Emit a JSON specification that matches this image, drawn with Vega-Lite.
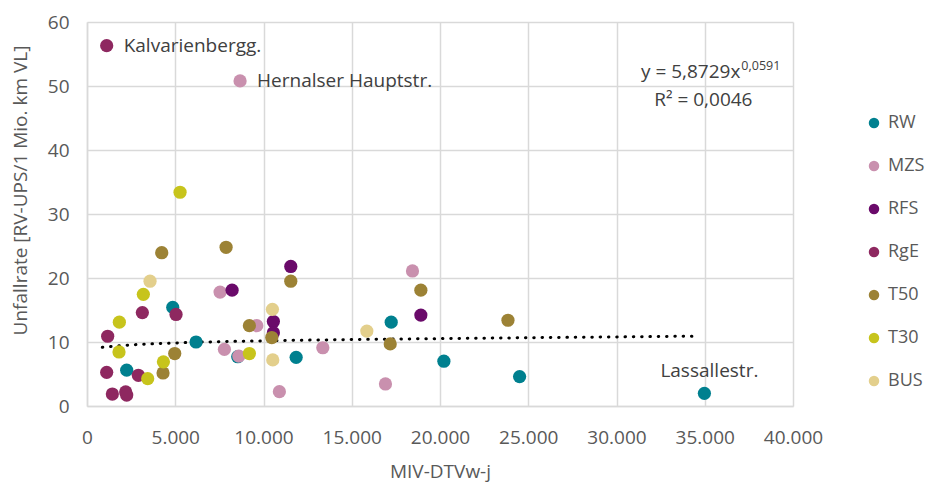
{
  "$schema": "https://vega.github.io/schema/vega-lite/v6.json",
  "autosize": {"type": "none"},
  "padding": {"left": 87, "top": 22, "right": 137, "bottom": 78},
  "width": 706,
  "height": 384,
  "datasets": {
    "pts": [
      {"cat": "RW", "x": 4858, "y": 15.4},
      {"cat": "RW", "x": 6179, "y": 10.0},
      {"cat": "RW", "x": 2249, "y": 5.6},
      {"cat": "RW", "x": 8540, "y": 7.7},
      {"cat": "RW", "x": 11850, "y": 7.6},
      {"cat": "RW", "x": 17235, "y": 13.1},
      {"cat": "RW", "x": 20220, "y": 7.0},
      {"cat": "RW", "x": 24510, "y": 4.6},
      {"cat": "RW", "x": 34980, "y": 1.98, "label": "Lassallestr."},
      {"cat": "MZS", "x": 8673, "y": 50.8, "label": "Hernalser Hauptstr."},
      {"cat": "MZS", "x": 7540, "y": 17.8},
      {"cat": "MZS", "x": 9620, "y": 12.55},
      {"cat": "MZS", "x": 7785, "y": 8.85},
      {"cat": "MZS", "x": 8600, "y": 7.8},
      {"cat": "MZS", "x": 10900, "y": 2.24},
      {"cat": "MZS", "x": 13360, "y": 9.1},
      {"cat": "MZS", "x": 18440, "y": 21.1},
      {"cat": "MZS", "x": 16910, "y": 3.44},
      {"cat": "RFS", "x": 8220, "y": 18.1},
      {"cat": "RFS", "x": 11545, "y": 21.8},
      {"cat": "RFS", "x": 10560, "y": 13.2},
      {"cat": "RFS", "x": 10560, "y": 11.45},
      {"cat": "RFS", "x": 18915, "y": 14.2},
      {"cat": "RgE", "x": 1115, "y": 56.3, "label": "Kalvarienbergg."},
      {"cat": "RgE", "x": 3136, "y": 14.6},
      {"cat": "RgE", "x": 5045, "y": 14.3},
      {"cat": "RgE", "x": 1172, "y": 10.9},
      {"cat": "RgE", "x": 1115, "y": 5.26},
      {"cat": "RgE", "x": 2910, "y": 4.8},
      {"cat": "RgE", "x": 1436, "y": 1.87},
      {"cat": "RgE", "x": 2192, "y": 2.2},
      {"cat": "RgE", "x": 2249, "y": 1.7},
      {"cat": "T50", "x": 4234, "y": 23.95},
      {"cat": "T50", "x": 4970, "y": 8.2},
      {"cat": "T50", "x": 4308, "y": 5.16},
      {"cat": "T50", "x": 7880, "y": 24.8},
      {"cat": "T50", "x": 9200, "y": 12.55},
      {"cat": "T50", "x": 11545, "y": 19.5},
      {"cat": "T50", "x": 10470, "y": 10.7},
      {"cat": "T50", "x": 18915, "y": 18.1},
      {"cat": "T50", "x": 17180, "y": 9.7},
      {"cat": "T50", "x": 23850, "y": 13.4},
      {"cat": "T30", "x": 5272, "y": 33.4},
      {"cat": "T30", "x": 3193, "y": 17.45},
      {"cat": "T30", "x": 1833, "y": 13.1},
      {"cat": "T30", "x": 1814, "y": 8.44},
      {"cat": "T30", "x": 3439, "y": 4.27},
      {"cat": "T30", "x": 4329, "y": 6.9},
      {"cat": "T30", "x": 9200, "y": 8.2},
      {"cat": "BUS", "x": 3571, "y": 19.5},
      {"cat": "BUS", "x": 10505, "y": 15.1},
      {"cat": "BUS", "x": 10525, "y": 7.2},
      {"cat": "BUS", "x": 15855, "y": 11.7}
    ],
    "trend": [
      {"x": 867, "y": 9.17},
      {"x": 2000, "y": 9.45},
      {"x": 5000, "y": 9.85},
      {"x": 10000, "y": 10.18},
      {"x": 15000, "y": 10.38},
      {"x": 20000, "y": 10.53},
      {"x": 25000, "y": 10.67},
      {"x": 30000, "y": 10.79},
      {"x": 34640, "y": 10.92}
    ],
    "eq": [
      {"x": 37018, "y": 52.2, "t": "y = 5,8729x", "kind": "main"},
      {"x": 37075, "y": 53.2, "t": "0,0591", "kind": "sup"},
      {"x": 34920, "y": 47.8, "t": "R² = 0,0046", "kind": "r2"}
    ]
  },
  "layer": [
    {
      "data": {"name": "trend"},
      "mark": {"type": "line", "color": "#000000", "strokeWidth": 3, "strokeDash": [0.5, 7.8], "strokeCap": "round", "interpolate": "monotone"},
      "encoding": {
        "x": {"field": "x", "type": "quantitative", "scale": {"domain": [0, 40000], "nice": false},
          "axis": {"values": [0, 5000, 10000, 15000, 20000, 25000, 30000, 35000, 40000], "labelOverlap": false, "labelFlush": false, "labelExpr": "replace(format(datum.value, ','), ',', '.')", "title": "MIV-DTVw-j", "titleX": 353, "titleY": 56, "titleBaseline": "top", "labelPadding": 22}},
        "y": {"field": "y", "type": "quantitative", "scale": {"domain": [0, 60], "nice": false},
          "axis": {"values": [0, 10, 20, 30, 40, 50, 60], "labelOverlap": false, "labelFlush": false, "title": "Unfallrate [RV-UPS/1 Mio. km VL]", "titleX": -67, "titleY": 168, "titleAlign": "center", "titleBaseline": "middle", "labelPadding": 18}}
      }
    },
    {
      "data": {"name": "pts"},
      "mark": {"type": "point", "filled": true, "opacity": 1, "size": 175, "shape": "circle"},
      "encoding": {
        "x": {"field": "x", "type": "quantitative"},
        "y": {"field": "y", "type": "quantitative"},
        "color": {"field": "cat", "type": "nominal",
          "scale": {"domain": ["RW", "MZS", "RFS", "RgE", "T50", "T30", "BUS"], "range": ["#00808F", "#C990AE", "#6A0A6A", "#8E2860", "#9C8235", "#C7C41C", "#E3CF8C"]},
          "legend": {"title": null, "orient": "none", "legendX": 778, "legendY": 92, "symbolSize": 110, "symbolType": "circle", "labelFontSize": 18, "labelColor": "#595959", "rowPadding": 25, "labelOffset": 5}}
      }
    },
    {
      "data": {"name": "pts"},
      "transform": [{"filter": "datum.label != null && datum.cat != 'RW'"}],
      "mark": {"type": "text", "align": "left", "baseline": "middle", "dx": 17, "fontSize": 19, "color": "#404040"},
      "encoding": {
        "x": {"field": "x", "type": "quantitative"},
        "y": {"field": "y", "type": "quantitative"},
        "text": {"field": "label"}
      }
    },
    {
      "data": {"name": "pts"},
      "transform": [{"filter": "datum.label != null && datum.cat == 'RW'"}],
      "mark": {"type": "text", "align": "center", "baseline": "middle", "dx": 5, "dy": -22, "fontSize": 19, "color": "#404040"},
      "encoding": {
        "x": {"field": "x", "type": "quantitative"},
        "y": {"field": "y", "type": "quantitative"},
        "text": {"field": "label"}
      }
    },
    {
      "data": {"name": "eq"},
      "transform": [{"filter": "datum.kind == 'main'"}],
      "mark": {"type": "text", "align": "right", "baseline": "middle", "fontSize": 19, "color": "#404040"},
      "encoding": {
        "x": {"field": "x", "type": "quantitative"},
        "y": {"field": "y", "type": "quantitative"},
        "text": {"field": "t"}
      }
    },
    {
      "data": {"name": "eq"},
      "transform": [{"filter": "datum.kind == 'sup'"}],
      "mark": {"type": "text", "align": "left", "baseline": "middle", "fontSize": 12.5, "color": "#404040"},
      "encoding": {
        "x": {"field": "x", "type": "quantitative"},
        "y": {"field": "y", "type": "quantitative"},
        "text": {"field": "t"}
      }
    },
    {
      "data": {"name": "eq"},
      "transform": [{"filter": "datum.kind == 'r2'"}],
      "mark": {"type": "text", "align": "center", "baseline": "middle", "fontSize": 19, "color": "#404040"},
      "encoding": {
        "x": {"field": "x", "type": "quantitative"},
        "y": {"field": "y", "type": "quantitative"},
        "text": {"field": "t"}
      }
    }
  ],
  "config": {
    "font": "Open Sans",
    "view": {"stroke": null},
    "axis": {
      "labelColor": "#595959",
      "labelFontSize": 19,
      "titleColor": "#595959",
      "titleFontSize": 19,
      "titleFontWeight": "normal",
      "gridColor": "#D9D9D9",
      "gridWidth": 1.5,
      "domainColor": "#D9D9D9",
      "domainWidth": 1.5,
      "ticks": false
    }
  }
}
